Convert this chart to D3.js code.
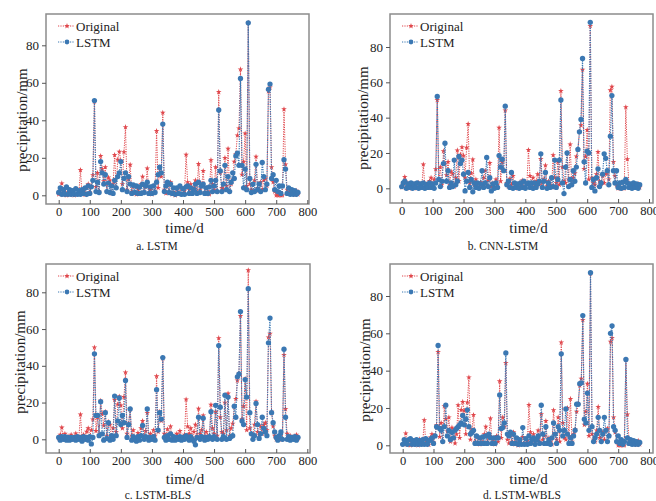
<!DOCTYPE html>
<html>
<head>
<meta charset="utf-8">
<script src="https://cdn.jsdelivr.net/npm/d3@7"></script>
<style>
  body { margin: 0; background: #fff; }
  svg { display: block; }
  text { font-family: "Liberation Serif", "Times New Roman", serif; fill: #222; }
</style>
</head>
<body>
<svg id="chart" width="656" height="501"></svg>
<script>
// one sample every 5 days, day 0 .. 770
const step = 5;

const original = [
  0.5, 2.5, 6.4, 0.3, 3.0, 0, 1.5, 0.2, 2.5, 0.4,
  0, 3.2, 0.5, 1.0, 13.5, 0.8, 2.5, 0.3, 4.2, 6.0,
  1.5, 5.0, 10.8, 50.0, 4.5, 12.0, 2.0, 21.0, 14.0, 7.5,
  15.0, 2.0, 9.5, 8.0, 1.0, 6.0, 21.5, 4.0, 19.0, 23.3,
  18.5, 6.0, 23.0, 36.4, 3.0, 8.5, 16.3, 2.0, 5.0, 1.0,
  0.5, 3.5, 1.0, 6.0, 10.0, 2.0, 4.5, 14.4, 1.0, 3.0,
  0.5, 5.0, 2.0, 34.3, 4.0, 15.0, 10.0, 44.1, 3.0, 1.0,
  5.5, 2.0, 7.0, 0.5, 1.5, 0, 3.0, 1.0, 4.5, 0.5,
  1.0, 2.5, 21.7, 7.0, 3.0, 6.0, 1.0, 4.0, 8.0, 2.0,
  16.7, 3.0, 5.0, 13.0, 1.5, 4.0, 2.0, 0.5, 18.8, 6.0,
  3.0, 15.0, 2.0, 55.1, 12.0, 4.0, 3.0, 20.0, 5.0, 24.9,
  2.0, 6.0, 8.5, 18.0, 22.0, 32.0, 35.7, 67.2, 11.0, 18.0,
  33.0, 5.0, 92.0, 6.0, 3.0, 2.0, 8.0, 20.6, 4.0, 2.5,
  7.0, 3.0, 8.0, 9.0, 5.0, 55.5, 57.5, 15.0, 7.0, 2.0,
  0, 0, 0, 0, 0, 45.9, 16.5, 3.0, 1.0, 2.0,
  0.5, 1.0, 0.3, 2.5, 0.5
];

const predLSTM = [
  1.5, 4.0, 0.5, 3.0, 0.5, 4.5, 0.5, 3.0, 0.5, 2.5,
  0.5, 3.5, 0.5, 2.5, 0.5, 3.0, 1.0, 4.0, 0.5, 5.0,
  1.0, 4.5, 8.0, 50.5, 2.0, 7.0, 1.5, 18.0, 12.0, 6.0,
  11.0, 2.0, 6.5, 1.5, 5.0, 1.0, 8.0, 4.0, 10.0, 12.0,
  18.0, 3.0, 9.0, 12.0, 2.0, 10.0, 6.0, 1.0, 5.5, 1.5,
  5.0, 1.0, 4.5, 1.0, 6.0, 1.5, 5.0, 7.0, 1.0, 4.5,
  1.0, 5.0, 1.5, 7.0, 11.0, 15.0, 12.0, 38.0, 2.0, 5.0,
  7.0, 1.5, 6.0, 1.0, 4.0, 0.5, 4.0, 1.0, 5.0, 0.5,
  3.5, 0.5, 4.5, 5.0, 1.0, 4.0, 1.0, 3.0, 6.0, 1.0,
  7.0, 1.5, 5.0, 6.0, 1.0, 4.0, 1.0, 4.5, 8.0, 2.0,
  5.0, 8.0, 2.0, 45.5, 13.0, 2.0, 6.0, 16.0, 3.0, 10.0,
  2.0, 7.0, 12.0, 9.0, 21.0, 22.5, 16.0, 62.3, 16.0, 4.0,
  14.0, 3.0, 92.0, 9.0, 1.5, 6.0, 2.0, 16.5, 3.0, 6.0,
  2.0, 17.5, 10.0, 3.0, 6.0, 56.5, 59.3, 9.0, 11.0, 3.0,
  8.0, 2.0, 5.0, 1.0, 5.0, 19.0, 14.0, 1.0, 4.0, 0.5,
  3.0, 0.5, 2.5, 0.5, 1.5
];

const predCNN = [
  1.0, 3.0, 4.0, 0.0, 2.5, 0.5, 3.0, 0.0, 2.5, 0.5,
  3.0, 0.0, 2.5, 0.5, 3.0, 0.0, 2.0, 0.5, 3.0, 0.5,
  2.5, 0.0, 3.0, 52.0, 5.0, 1.0, 4.0, 14.0, 25.5, 4.0,
  10.0, 0.5, 3.0, 1.0, 16.0, 2.0, 4.0, 18.0, 14.0, 16.0,
  8.0, -1.5, 4.0, 9.0, 0.5, 5.0, -2.0, 3.0, 0.5, 3.0,
  0.0, 2.5, 10.0, 0.5, 3.0, 17.5, 1.0, 6.0, -1.5, 2.5,
  0.0, 3.0, 0.5, 18.5, 12.0, 16.5, 10.0, 46.5, 2.0, 4.0,
  0.5, 9.0, 0.0, 3.0, 0.5, 2.5, 0.0, 3.0, 0.5, 4.0,
  0.0, 2.5, 3.0, 0.5, 3.0, 0.0, 3.0, 0.5, 2.5, 4.0,
  19.5, 0.5, 4.0, 9.0, 0.0, 3.0, 0.5, 6.0, 1.0, 16.0,
  0.5, 5.0, 16.0, 50.0, 3.0, -3.0, 12.0, 20.0, 1.0, 5.0,
  2.0, 10.0, 4.0, 12.0, 22.0, 32.0, 39.0, 73.5, 15.0, 3.0,
  21.0, 20.0, 94.0, 0.5, 5.0, -1.5, 6.0, 11.0, 1.0, 3.0,
  8.0, 19.5, 17.0, 10.0, 2.0, 29.5, 52.5, 10.0, 3.0, 10.0,
  0.5, 3.0, 0.0, 3.5, 0.5, 5.0, 3.0, 0.5, 2.5, 0.0,
  3.0, 0.5, 2.5, 0.0, 2.0
];

const predBLS = [
  1.0, -0.5, 1.5, 0.0, 1.5, -0.5, 1.0, -0.5, 1.0, 0.0,
  1.0, -0.5, 1.5, 0.0, 1.0, -1.0, 1.5, 0.0, 1.0, -0.5,
  1.5, -2.5, 1.0, 46.5, 13.0, 13.0, 2.0, 20.5, 3.0, -0.5,
  14.5, 0.5, 9.0, -0.5, 2.0, 0.0, 23.5, 2.0, 10.0, 22.5,
  8.0, 13.0, 9.0, 32.0, 1.0, 8.0, 16.5, -0.5, 1.5, 0.0,
  -1.0, 1.5, -0.5, 2.0, 7.5, 0.0, 1.5, 16.5, -0.5, 1.0,
  0.0, 1.5, -0.5, 27.0, 5.0, 14.5, 11.0, 44.5, 1.0, -0.5,
  2.0, 0.0, 3.0, -0.5, 1.5, -0.5, 1.0, 0.0, 1.5, -0.5,
  1.0, 0.0, 2.0, 1.0, -0.5, 1.5, 0.0, -1.0, -3.0, 1.0,
  12.0, 0.0, 1.5, 11.5, -0.5, 1.0, 0.0, 1.5, 15.0, 0.0,
  1.5, 18.5, 0.0, 51.0, 17.5, 0.0, 1.5, 24.0, 0.0, 23.0,
  0.5, 1.5, 2.0, 18.0, 12.0, 34.0, 35.5, 69.5, 10.0, 8.0,
  32.5, 23.0, 82.0, 14.5, 3.0, 0.0, 2.0, 19.5, 8.0, 0.5,
  3.0, 12.0, 6.0, 4.0, 2.0, 52.5, 66.0, 14.5, 9.0, 4.0,
  1.0, -0.5, 2.0, 4.0, 0.0, 49.0, 12.0, 0.0, 1.5, -0.5,
  1.0, 0.0, 1.5, -0.5, 1.0
];

const predWBLS = [
  0.5, 3.0, 2.5, 0.5, 3.0, 3.5, 0.5, 2.5, 0.5, 3.0,
  0.5, 2.5, 0.5, 3.0, 0.5, 3.5, 0.5, 2.5, 3.0, 4.0,
  1.0, 5.0, 10.0, 53.5, 9.0, 8.0, 2.0, 10.0, 21.5, 5.0,
  8.0, 3.0, 7.0, 4.0, 8.0, 9.0, 10.0, 11.0, 12.0, 16.0,
  11.0, 14.0, 19.0, 10.0, 6.0, 7.0, 8.0, 1.0, 5.0, 1.0,
  4.0, 1.0, 4.5, 1.0, 5.0, 1.0, 6.0, 4.0, 1.0, 4.0,
  1.0, 4.0, 4.0, 27.0, 9.0, 9.5, 12.0, 49.5, 6.0, 5.0,
  7.0, 1.0, 6.0, 1.0, 4.0, 0.5, 3.0, 0.5, 9.5, 0.5,
  3.5, 0.5, 5.0, 1.0, 3.0, 4.0, 0.5, 3.0, 5.0, 1.0,
  21.5, 6.0, 1.0, 10.0, 1.0, 3.0, 0.5, 4.0, 12.0, 6.0,
  1.0, 10.0, 8.0, 49.0, 5.0, 8.0, 19.5, 6.0, 1.0, 4.0,
  1.0, 5.0, 8.0, 22.0, 22.0, 33.0, 33.5, 69.5, 14.0, 12.0,
  28.0, 8.0, 92.5, 10.0, 2.0, 4.0, 6.0, 15.0, 8.0, 2.0,
  6.0, 15.0, 8.0, 2.0, 5.0, 60.0, 64.0, 10.0, 8.0, 2.0,
  5.0, 1.0, 3.0, 0.5, 2.0, 46.0, 4.0, 1.0, 3.0, 0.5,
  2.5, 0.5, 2.0, 0.5, 1.5
];

const xTicks = [0, 100, 200, 300, 400, 500, 600, 700, 800];
const yTicks = [0, 20, 40, 60, 80];
const seriesNames = ["Original", "LSTM"];

const red = "#e0474c";
const blue = "#3b78b3";

// frame box, pixel positions of x 0/800 and y 0/80, caption
const panels = [
  { pred: predLSTM, caption: "a. LSTM", box: [46, 14, 309, 204], xr: [58.7, 307.3], yr: [195.3, 45.3],
    ytitle: [22, 120], xtitleY: 228, capX: 157, capY: 246 },
  { pred: predCNN, caption: "b. CNN-LSTM", box: [390, 14, 653, 203], xr: [401.7, 649], yr: [188.3, 47],
    ytitle: [363, 118], xtitleY: 228, capX: 503, capY: 246 },
  { pred: predBLS, caption: "c. LSTM-BLS", box: [46, 264, 310, 453], xr: [58.7, 307.3], yr: [439.3, 292.3],
    ytitle: [20, 362], xtitleY: 479, capX: 158, capY: 495 },
  { pred: predWBLS, caption: "d. LSTM-WBLS", box: [390, 264, 653, 453], xr: [402.7, 649], yr: [445.3, 296],
    ytitle: [365, 370], xtitleY: 479, capX: 522, capY: 495 }
];

const svg = d3.select("#chart");
const days = original.map((d, i) => i * step);

panels.forEach((p, pi) => {
  const [x0, y0, x1, y1] = p.box;
  const x = d3.scaleLinear().domain([0, 800]).range(p.xr);
  const y = d3.scaleLinear().domain([0, 80]).range(p.yr);
  const g = svg.append("g");

  g.append("clipPath").attr("id", "clip" + pi)
    .append("rect").attr("x", x0).attr("y", y0).attr("width", x1 - x0).attr("height", y1 - y0);

  const plot = g.append("g").attr("clip-path", `url(#clip${pi})`);
  const line = d3.line().x((d, i) => x(days[i])).y((d) => y(d));

  const drawSeries = (values, color, symbol, size, width) => {
    plot.append("path")
      .datum(values)
      .attr("d", line)
      .attr("fill", "none")
      .attr("stroke", color)
      .attr("stroke-width", width)
      .attr("stroke-dasharray", "1.2 1.2");
    plot.append("g")
      .selectAll("path")
      .data(values)
      .join("path")
      .attr("transform", (d, i) => `translate(${x(days[i])},${y(d)})`)
      .attr("d", d3.symbol(symbol, size))
      .attr("fill", color);
  };
  drawSeries(original, red, d3.symbolStar, 10, 1);
  drawSeries(p.pred, blue, d3.symbolCircle, 22, 1.2);

  // frame
  g.append("rect")
    .attr("x", x0).attr("y", y0).attr("width", x1 - x0).attr("height", y1 - y0)
    .attr("fill", "none").attr("stroke", "#8c8c8c").attr("stroke-width", 1.5);

  // x axis: ticks inward
  const xa = g.append("g").attr("transform", `translate(0,${y1})`)
    .call(d3.axisBottom(x).tickValues(xTicks).tickSize(-4).tickPadding(3.5).tickFormat(d3.format("d")));
  xa.attr("font-family", null);
  xa.select(".domain").remove();
  xa.selectAll("line").attr("stroke", "#555");
  xa.selectAll("text").attr("font-size", 12.5);

  // y axis
  const ya = g.append("g").attr("transform", `translate(${x0},0)`)
    .call(d3.axisLeft(y).tickValues(yTicks).tickSize(4).tickPadding(3).tickFormat(d3.format("d")));
  ya.attr("font-family", null);
  ya.select(".domain").remove();
  ya.selectAll("line").attr("stroke", "#555");
  ya.selectAll("text").attr("font-size", 13);

  // titles
  g.append("text")
    .attr("transform", `translate(${p.ytitle[0]},${p.ytitle[1]}) rotate(-90)`)
    .attr("text-anchor", "middle").attr("dominant-baseline", "central")
    .attr("font-size", 15).text("precipitation/mm");
  g.append("text")
    .attr("x", (x0 + x1) / 2 + 7).attr("y", p.xtitleY)
    .attr("text-anchor", "middle").attr("dominant-baseline", "central")
    .attr("font-size", 15).text("time/d");
  g.append("text")
    .attr("x", p.capX).attr("y", p.capY)
    .attr("text-anchor", "middle").attr("dominant-baseline", "central")
    .attr("font-size", 11.5).text(p.caption);

  // legend
  const leg = g.append("g").attr("transform", `translate(${x0 + 12},${y0 + 12})`);
  [[red, d3.symbolStar, 10], [blue, d3.symbolCircle, 18]].forEach(([c, s, sz], i) => {
    const row = leg.append("g").attr("transform", `translate(0,${i * 16})`);
    row.append("line").attr("x1", 0).attr("x2", 16)
      .attr("stroke", c).attr("stroke-width", 1).attr("stroke-dasharray", "1.2 1.2");
    row.append("path").attr("transform", "translate(9,0)").attr("d", d3.symbol(s, sz)).attr("fill", c);
    row.append("text").attr("x", 18).attr("dominant-baseline", "central")
      .attr("font-size", 13).text(seriesNames[i]);
  });
});
</script>
</body>
</html>
